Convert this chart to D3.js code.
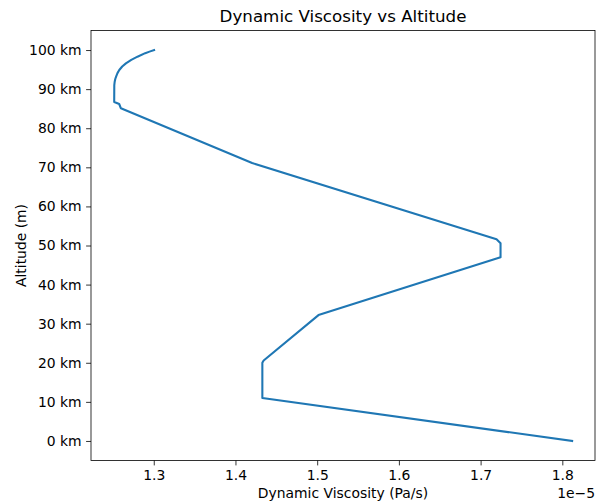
<!DOCTYPE html>
<html>
<head>
<meta charset="utf-8">
<script src="https://cdn.jsdelivr.net/npm/d3@7"></script>
<style>
  body { margin: 0; background: #fff; }
  svg { display: block; font-family: "DejaVu Sans", sans-serif; }
</style>
</head>
<body>
<div id="chart"></div>
<script>
// altitude in km, viscosity in units of 1e-5 Pa*s
const altitudes = [0, 11, 20, 20.6, 32.2, 47, 50.6, 51.6, 71.1, 85.1, 86.2, 86.7, 91.0, 91.9, 92.6, 93.2, 94.1, 94.9, 95.8, 96.6, 97.5, 98.3, 99.2, 99.6, 100];
const viscosity = [1.812, 1.4329, 1.4329, 1.4345, 1.5016, 1.7244, 1.7244, 1.7195, 1.4204, 1.2598, 1.2577, 1.2516, 1.2517, 1.2522, 1.2529, 1.2539, 1.2556, 1.2578, 1.2614, 1.2659, 1.2725, 1.2801, 1.2895, 1.2948, 1.3004];
const xTicks = [1.3, 1.4, 1.5, 1.6, 1.7, 1.8];
const yTicks = [0, 10, 20, 30, 40, 50, 60, 70, 80, 90, 100];

const W = 601, H = 502;
const margin = {left: 91, right: 6, top: 30.5, bottom: 41.5};

const svg = d3.select("#chart").append("svg")
    .attr("width", W)
    .attr("height", H);

const x = d3.scaleLinear()
    .domain([1.2232, 1.8400])
    .range([margin.left, W - margin.right]);
const y = d3.scaleLinear()
    .domain([-5, 105])
    .range([H - margin.bottom, margin.top]);

const data = altitudes.map((a, i) => ({alt: a, mu: viscosity[i]}));

// line
svg.append("path")
    .datum(data)
    .attr("fill", "none")
    .attr("stroke", "#1f77b4")
    .attr("stroke-width", 2.08)
    .attr("stroke-linejoin", "round")
    .attr("stroke-linecap", "square")
    .attr("d", d3.line().x(d => x(d.mu)).y(d => y(d.alt)));

// axes
const xAxis = svg.append("g")
    .attr("transform", `translate(0,${H - margin.bottom})`)
    .call(d3.axisBottom(x).tickValues(xTicks).tickFormat(d3.format(".1f")).tickSize(4.9).tickPadding(4.5));
const yAxis = svg.append("g")
    .attr("transform", `translate(${margin.left},0)`)
    .call(d3.axisLeft(y).tickValues(yTicks).tickFormat(d => d + " km").tickSize(4.9).tickPadding(4.5));

[xAxis, yAxis].forEach(g => {
    g.select(".domain").remove();
    g.selectAll(".tick line").attr("stroke", "#000").attr("stroke-width", 0.8);
    g.selectAll(".tick text").attr("fill", "#000").style("font-size", "13.9px").style("font-family", "DejaVu Sans");
});

// frame
svg.append("rect")
    .attr("x", margin.left)
    .attr("y", margin.top)
    .attr("width", W - margin.left - margin.right)
    .attr("height", H - margin.top - margin.bottom)
    .attr("fill", "none")
    .attr("stroke", "#000")
    .attr("stroke-width", 0.8);

// title and labels
svg.append("text")
    .attr("x", (margin.left + W - margin.right) / 2)
    .attr("y", 22)
    .attr("text-anchor", "middle")
    .style("font-size", "16.7px")
    .text("Dynamic Viscosity vs Altitude");

svg.append("text")
    .attr("x", (margin.left + W - margin.right) / 2)
    .attr("y", 498)
    .attr("text-anchor", "middle")
    .style("font-size", "13.9px")
    .text("Dynamic Viscosity (Pa/s)");

svg.append("text")
    .attr("x", W - margin.right)
    .attr("y", 498)
    .attr("text-anchor", "end")
    .style("font-size", "13.9px")
    .text("1e\u22125");

svg.append("text")
    .attr("transform", `translate(26,${(margin.top + H - margin.bottom) / 2}) rotate(-90)`)
    .attr("text-anchor", "middle")
    .style("font-size", "13.9px")
    .text("Altitude (m)");
</script>
</body>
</html>
